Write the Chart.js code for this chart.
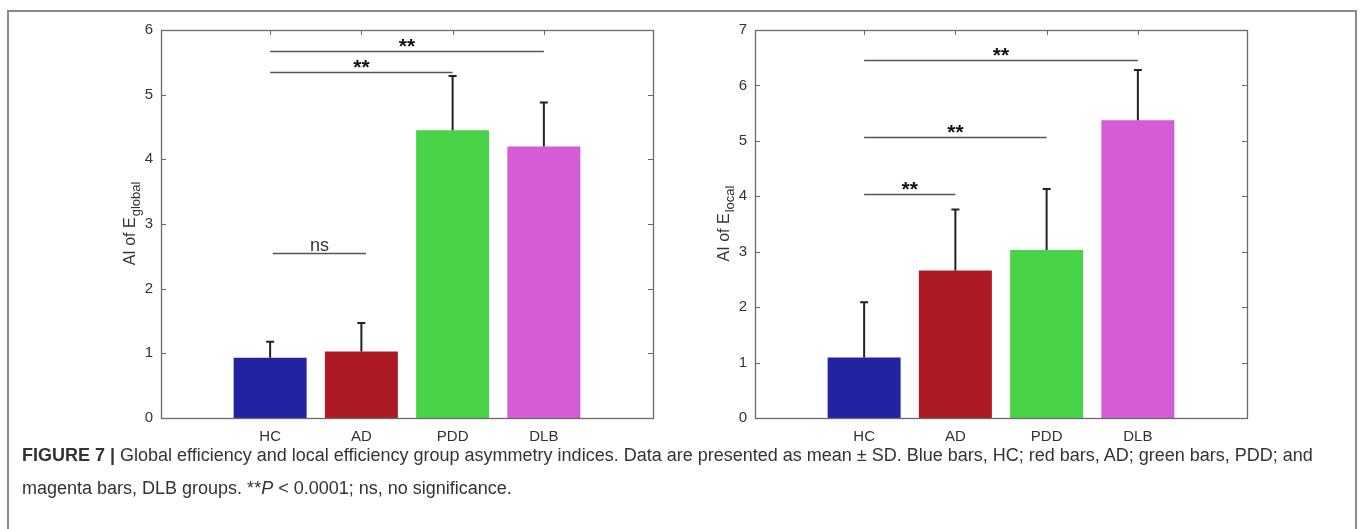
<!DOCTYPE html>
<html>
<head>
<meta charset="utf-8">
<script src="https://cdn.jsdelivr.net/npm/chart.js@4.4.0/dist/chart.umd.min.js"></script>
<style>
body{margin:0;background:#fff;width:1360px;height:529px;overflow:hidden;position:relative;font-family:"Liberation Sans",Arial,sans-serif}
#frame{position:absolute;left:7px;top:10px;width:1346px;height:540px;border:2px solid #8a8a8a;border-bottom:none}
canvas{position:absolute;top:0}
#c1{left:0}
#c2{left:594px}
#caption{position:absolute;left:22px;top:439px;font-size:18px;line-height:33px;color:#333;white-space:nowrap}
</style>
</head>
<body>
<div id="frame"></div>
<canvas id="c1" width="680" height="460"></canvas>
<canvas id="c2" width="680" height="460"></canvas>
<div id="caption"><b>FIGURE 7 |</b> Global efficiency and local efficiency group asymmetry indices. Data are presented as mean ± SD. Blue bars, HC; red bars, AD; green bars, PDD; and<br>magenta bars, DLB groups. **<i>P</i> &lt; 0.0001; ns, no significance.</div>
<script>
// groups and colours
const groups = ['HC', 'AD', 'PDD', 'DLB'];
const colors = ['#2323a2', '#ad1a26', '#48d247', '#d65bd6'];

// AI of E_global (mean, SD)
const globalMean = [0.93, 1.03, 4.45, 4.20];
const globalSD = [0.25, 0.44, 0.84, 0.68];
const globalMax = 6;
const globalSig = [
    {from: 1, to: 4, y: 5.67, text: '**'},
    {from: 1, to: 3, y: 5.35, text: '**'},
    {from: 1.03, to: 2.05, y: 2.55, text: 'ns'}
];

// AI of E_local (mean, SD)
const localMean = [1.09, 2.66, 3.03, 5.37];
const localSD = [1.00, 1.10, 1.10, 0.91];
const localMax = 7;
const localSig = [
    {from: 1, to: 4, y: 6.45, text: '**'},
    {from: 1, to: 3, y: 5.07, text: '**'},
    {from: 1, to: 2, y: 4.04, text: '**'}
];

function matlabLook(sd, means, sig, sub) {
    return {
        id: 'matlabLook',
        beforeDatasetsDraw(chart) {
            const {ctx, chartArea: a, scales: {x, y}} = chart;
            ctx.save();
            ctx.strokeStyle = '#666';
            ctx.lineWidth = 1;
            ctx.beginPath();
            y.ticks.forEach(t => {
                const py = Math.round(y.getPixelForValue(t.value)) + 0.5;
                ctx.moveTo(a.left, py); ctx.lineTo(a.left + 5, py);
                ctx.moveTo(a.right, py); ctx.lineTo(a.right - 5, py);
            });
            x.ticks.forEach(t => {
                const px = Math.round(x.getPixelForValue(t.value)) + 0.5;
                ctx.moveTo(px, a.top); ctx.lineTo(px, a.top + 5);
                ctx.moveTo(px, a.bottom); ctx.lineTo(px, a.bottom - 5);
            });
            ctx.stroke();
            ctx.restore();
        },
        afterDatasetsDraw(chart) {
            const {ctx, chartArea: a, scales: {x, y}} = chart;
            ctx.save();
            // box
            ctx.strokeStyle = '#6a6a6a';
            ctx.lineWidth = 1.3;
            ctx.strokeRect(a.left + 0.5, a.top + 0.5, a.width, a.height);

            // error bars (upper only)
            ctx.strokeStyle = '#222';
            ctx.lineWidth = 2;
            const bars = chart.getDatasetMeta(0).data;
            bars.forEach((bar, i) => {
                const top = y.getPixelForValue(means[i] + sd[i]);
                ctx.beginPath();
                ctx.moveTo(bar.x, bar.y);
                ctx.lineTo(bar.x, top);
                ctx.moveTo(bar.x - 4, top);
                ctx.lineTo(bar.x + 4, top);
                ctx.stroke();
            });

            // significance lines
            sig.forEach(s => {
                const x1 = x.getPixelForValue(s.from), x2 = x.getPixelForValue(s.to);
                const py = Math.round(y.getPixelForValue(s.y)) + 0.5;
                ctx.strokeStyle = '#555';
                ctx.lineWidth = 1.5;
                ctx.beginPath();
                ctx.moveTo(x1, py); ctx.lineTo(x2, py);
                ctx.stroke();
                ctx.textAlign = 'center';
                ctx.textBaseline = 'alphabetic';
                if (s.text === 'ns') {
                    ctx.fillStyle = '#333';
                    ctx.font = '18px "Liberation Sans", Arial, sans-serif';
                    ctx.fillText(s.text, (x1 + x2) / 2, py - 3);
                } else {
                    ctx.fillStyle = '#111';
                    ctx.font = 'bold 21px "Liberation Sans", Arial, sans-serif';
                    ctx.fillText(s.text, (x1 + x2) / 2, py + 1);
                }
            });

            // y axis label with subscript
            const main = 'AI of E';
            ctx.fillStyle = '#333';
            ctx.font = '16px "Liberation Sans", Arial, sans-serif';
            const w1 = ctx.measureText(main).width;
            ctx.font = '13px "Liberation Sans", Arial, sans-serif';
            const w2 = ctx.measureText(sub).width;
            ctx.translate(a.left - 26, (a.top + a.bottom) / 2);
            ctx.rotate(-Math.PI / 2);
            ctx.textAlign = 'left';
            ctx.textBaseline = 'alphabetic';
            const start = -(w1 + w2) / 2;
            ctx.font = '16px "Liberation Sans", Arial, sans-serif';
            ctx.fillText(main, start, 0);
            ctx.font = '13px "Liberation Sans", Arial, sans-serif';
            ctx.fillText(sub, start + w1 + 1, 5);
            ctx.restore();
        }
    };
}

function makeChart(id, means, sd, yMax, sig, sub) {
    return new Chart(id, {
        type: 'bar',
        data: {
            datasets: [{
                data: means.map((v, i) => ({x: i + 1, y: v})),
                backgroundColor: colors,
                borderWidth: 0,
                barPercentage: 0.8,
                categoryPercentage: 1
            }]
        },
        options: {
            responsive: false,
            animation: false,
            devicePixelRatio: 1,
            layout: {padding: {top: 30, right: 27, left: 0, bottom: 0}},
            plugins: {legend: {display: false}, tooltip: {enabled: false}},
            scales: {
                x: {
                    type: 'linear',
                    min: -0.196,
                    max: 5.196,
                    offset: false,
                    grid: {display: false, drawTicks: false, offset: false},
                    border: {display: false},
                    afterBuildTicks: s => { s.ticks = groups.map((g, i) => ({value: i + 1})); },
                    afterFit: s => { s.height = 42; },
                    ticks: {
                        callback: v => groups[v - 1],
                        color: '#333',
                        padding: 10,
                        maxRotation: 0,
                        font: {family: '"Liberation Sans", Arial, sans-serif', size: 15}
                    }
                },
                y: {
                    min: 0,
                    max: yMax,
                    grid: {display: false, drawTicks: false},
                    border: {display: false},
                    afterFit: s => { s.width = 161; },
                    ticks: {
                        stepSize: 1,
                        color: '#333',
                        padding: 8,
                        font: {family: '"Liberation Sans", Arial, sans-serif', size: 15}
                    }
                }
            }
        },
        plugins: [matlabLook(sd, means, sig, sub)]
    });
}

makeChart('c1', globalMean, globalSD, globalMax, globalSig, 'global');
makeChart('c2', localMean, localSD, localMax, localSig, 'local');
</script>
</body>
</html>
